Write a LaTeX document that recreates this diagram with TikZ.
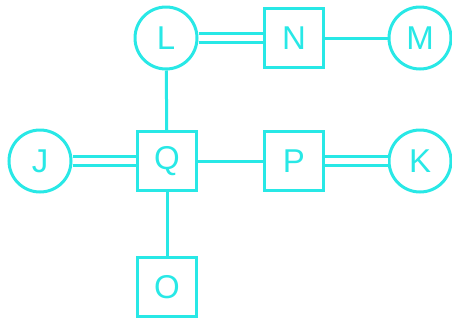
\documentclass[tikz,border=0pt]{standalone}
\usepackage{fontspec}
\setmainfont{Liberation Sans}
\definecolor{aqua}{RGB}{40,232,230}
\begin{document}
\begin{tikzpicture}[x=1pt, y=-1pt, line width=3pt,
  roundnode/.style={draw=aqua, text=aqua, circle, minimum size=62pt, inner sep=0pt, font=\fontsize{33}{33}\selectfont},
  squarenode/.style={draw=aqua, text=aqua, rectangle, minimum size=59pt, inner sep=0pt, font=\fontsize{33}{33}\selectfont},
  link/.style={draw=aqua},
  doublelink/.style={draw=aqua, double=white, double distance=6.5pt, line width=3.2pt}]
\useasboundingbox (0,0) rectangle (452,322);
\node[roundnode] (L) at (166,38) {L};
\node[squarenode] (N) at (294,38) {N};
\node[roundnode] (M) at (420,38) {M};
\node[roundnode] (J) at (40,161) {J};
\node[squarenode] (Q) at (167,161) {Q};
\node[squarenode] (P) at (294,161) {P};
\node[roundnode] (K) at (420,161) {K};
\node[squarenode] (O) at (167,287) {O};
\draw[doublelink] (L) -- (N);
\draw[link] (N) -- (M);
\draw[link] (L) -- (Q);
\draw[doublelink] (J) -- (Q);
\draw[link] (Q) -- (P);
\draw[doublelink] (P) -- (K);
\draw[link] (Q) -- (O);
\end{tikzpicture}
\end{document}
